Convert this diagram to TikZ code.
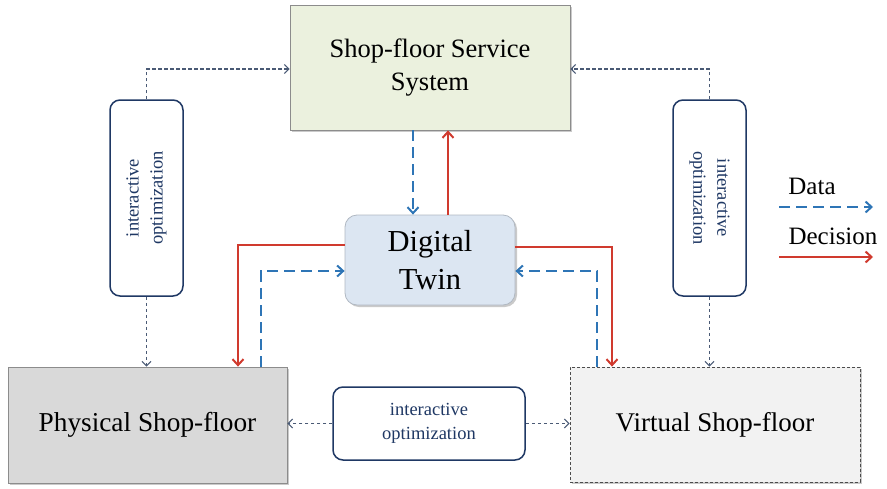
\documentclass[tikz,border=0pt]{standalone}
\usepackage{fontspec}
\setmainfont{Liberation Serif}
\usetikzlibrary{arrows.meta,shadows}
\definecolor{sgreen}{HTML}{EBF1DE}
\definecolor{sblue}{HTML}{DCE6F2}
\definecolor{pgrey}{HTML}{D9D9D9}
\definecolor{vgrey}{HTML}{F2F2F2}
\definecolor{iblue}{HTML}{1F3864}
\definecolor{dblue}{HTML}{2E75B6}
\definecolor{dred}{HTML}{D03A2E}
\definecolor{dotc}{HTML}{4A5A75}
\tikzset{
  shad/.style={drop shadow={shadow xshift=2pt,shadow yshift=-2pt,fill=black!35,opacity=0.6}},
  mainbox/.style={draw=black!45,line width=0.8pt,shad},
  iofont/.style={font=\fontsize{18.5}{24}\selectfont},
  iobox/.style={draw=iblue,line width=1.5pt,rounded corners=10pt,fill=white,align=center,text=iblue,iofont},
  dataarr/.style={draw=dblue,line width=2pt,dash pattern=on 11pt off 6pt,-{Straight Barb[length=6pt,width=11pt]}},
  decarr/.style={draw=dred,line width=2pt,-{Straight Barb[length=6pt,width=11pt]}},
  dotarr/.style={draw=dotc,line width=1.1pt,dash pattern=on 3.5pt off 2.5pt,-{Straight Barb[length=4.5pt,width=9pt]}},
}
\begin{document}
\begin{tikzpicture}[x=1pt,y=-1pt]
\useasboundingbox (0,0) rectangle (887,488);
% main boxes
\node[mainbox,fill=sgreen,minimum width=280pt,minimum height=125pt,align=center,font=\fontsize{26.5}{33}\selectfont] (sss) at (430,67.5) {Shop-floor Service\\System};
\node[mainbox,fill=sblue,rounded corners=12pt,draw=sblue!80!black,minimum width=170pt,minimum height=90pt,align=center,font=\fontsize{30.5}{38}\selectfont] (dt) at (430,260) {Digital\\Twin};
\node[mainbox,fill=pgrey,minimum width=279pt,minimum height=116pt,font=\fontsize{27.3}{32}\selectfont] (ps) at (147.5,425) {Physical Shop-floor};
\node[draw=black!70,line width=0.8pt,dash pattern=on 3pt off 2pt,fill=vgrey,shad,minimum width=290pt,minimum height=115pt,font=\fontsize{27}{32}\selectfont] (vs) at (715,424.5) {Virtual Shop-floor};
% interactive optimization boxes
\node[iobox,minimum width=73pt,minimum height=196pt] (iol) at (146.5,198) {};
\node[rotate=90,align=center,text=iblue,iofont] at (iol.center) {interactive\\optimization};
\node[iobox,minimum width=73pt,minimum height=196pt] (ior) at (709.5,198) {};
\node[rotate=-90,align=center,text=iblue,iofont] at (ior.center) {interactive\\optimization};
\node[iobox,minimum width=192pt,minimum height=73pt] (iob) at (429,423.5) {interactive\\optimization};
% dotted connectors
\draw[dotarr] (iol.north) |- (sss.west |- 0,69);
\draw[dotarr] (iol.south) -- (ps.north -| iol.south);
\draw[dotarr] (ior.north) |- (sss.east |- 0,69);
\draw[dotarr] (ior.south) -- (vs.north -| ior.south);
\draw[dotarr] (iob.west) -- (ps.east |- iob.west);
\draw[dotarr] (iob.east) -- (vs.west |- iob.east);
% data / decision between SSS and DT
\draw[dataarr] (sss.south -| 413,0) -- (dt.north -| 413,0);
\draw[decarr] (dt.north -| 448,0) -- (sss.south -| 448,0);
% left
\draw[decarr] (dt.west |- 0,245) -| (ps.north -| 238,0);
\draw[dataarr] (ps.north -| 261,0) |- (dt.west |- 0,271);
% right
\draw[decarr] (dt.east |- 0,247) -| (vs.north -| 612,0);
\draw[dataarr] (vs.north -| 597,0) |- (dt.east |- 0,271);
% legend
\node[font=\fontsize{25}{30}\selectfont] (ldata) at (812,186) {Data};
\node[font=\fontsize{25}{30}\selectfont] (ldec) at (833,236) {Decision};
\coordinate (d1) at (779,207);
\coordinate (d2) at (873,207);
\coordinate (e1) at (779,257);
\coordinate (e2) at (873,257);
\draw[dataarr] (d1) -- (d2);
\draw[decarr] (e1) -- (e2);
\end{tikzpicture}
\end{document}
